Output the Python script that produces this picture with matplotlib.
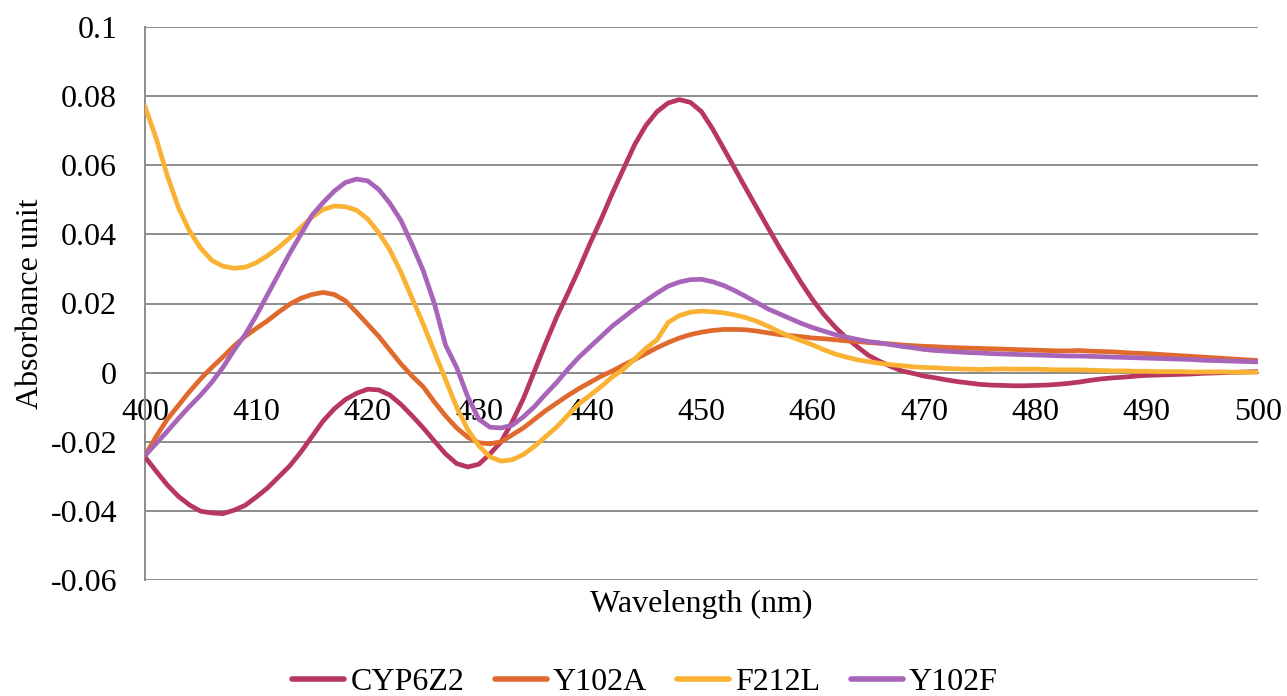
import numpy as np
import matplotlib
matplotlib.use("Agg")
import matplotlib.pyplot as plt

# wavelengths, 1 nm steps
wavelength = list(range(400, 501))

cyp6z2 = [
    -0.0244, -0.0285, -0.0325, -0.0358, -0.0383, -0.0401, -0.0406, -0.0408, -0.0398, -0.0384,
    -0.0360, -0.0334, -0.0302, -0.0270, -0.0230, -0.0185, -0.0140, -0.0105, -0.0078, -0.0060,
    -0.0048, -0.0050, -0.0065, -0.0092, -0.0125, -0.0160, -0.0198, -0.0235, -0.0263, -0.0273,
    -0.0265, -0.0235, -0.0200, -0.0142, -0.0075, 0.0005, 0.0085, 0.0162, 0.0230, 0.0300,
    0.0375, 0.0445, 0.0520, 0.0590, 0.0660, 0.0715, 0.0755, 0.0780, 0.0790, 0.0782,
    0.0755, 0.0705, 0.0648, 0.0590, 0.0532, 0.0475, 0.0418, 0.0362, 0.0310, 0.0258,
    0.0210, 0.0168, 0.0132, 0.0101, 0.0075, 0.0050, 0.0033, 0.0018, 0.0005, -0.0002,
    -0.0010, -0.0015, -0.0021, -0.0026, -0.0030, -0.0034, -0.0036, -0.0037, -0.0038, -0.0038,
    -0.0037, -0.0036, -0.0034, -0.0031, -0.0027, -0.0022, -0.0018, -0.0015, -0.0013, -0.0010,
    -0.0008, -0.0007, -0.0006, -0.0005, -0.0004, -0.0002, -0.0001, 0.0000, 0.0001, 0.0002,
    0.0003,
]

y102a = [
    -0.0240, -0.0185, -0.0135, -0.0095, -0.0055, -0.0018, 0.0015, 0.0045, 0.0077, 0.0105,
    0.0128, 0.0150, 0.0175, 0.0198, 0.0215, 0.0226, 0.0232, 0.0226, 0.0208, 0.0175,
    0.0140, 0.0105, 0.0065, 0.0025, -0.0010, -0.0041, -0.0085, -0.0125, -0.0160, -0.0187,
    -0.0203, -0.0206, -0.0200, -0.0180, -0.0160, -0.0135, -0.0110, -0.0088, -0.0066, -0.0046,
    -0.0028, -0.0010, 0.0005, 0.0022, 0.0038, 0.0055, 0.0072, 0.0087, 0.0100, 0.0110,
    0.0117, 0.0122, 0.0125, 0.0125, 0.0124, 0.0120, 0.0115, 0.0110, 0.0107, 0.0104,
    0.0100, 0.0098, 0.0095, 0.0092, 0.0090, 0.0087, 0.0085, 0.0083, 0.0080, 0.0078,
    0.0076, 0.0075, 0.0073, 0.0072, 0.0071, 0.0070, 0.0069, 0.0068, 0.0067, 0.0066,
    0.0065, 0.0064, 0.0063, 0.0063, 0.0064, 0.0062, 0.0061, 0.0060, 0.0058, 0.0056,
    0.0055, 0.0053, 0.0051, 0.0049, 0.0047, 0.0045, 0.0043, 0.0041, 0.0039, 0.0037,
    0.0035,
]

f212l = [
    0.0770, 0.0678, 0.0570, 0.0478, 0.0410, 0.0360, 0.0325, 0.0308, 0.0302, 0.0305,
    0.0318, 0.0338, 0.0362, 0.0390, 0.0420, 0.0450, 0.0472, 0.0482, 0.0480, 0.0470,
    0.0445, 0.0405, 0.0355, 0.0290, 0.0215, 0.0140, 0.0060, -0.0020, -0.0100, -0.0165,
    -0.0212, -0.0244, -0.0256, -0.0252, -0.0237, -0.0213, -0.0185, -0.0157, -0.0123, -0.0090,
    -0.0065, -0.0040, -0.0012, 0.0010, 0.0040, 0.0070, 0.0095, 0.0145, 0.0165, 0.0175,
    0.0178, 0.0176, 0.0173, 0.0167, 0.0159, 0.0148, 0.0134, 0.0118, 0.0104, 0.0092,
    0.0080, 0.0066, 0.0054, 0.0045, 0.0037, 0.0032, 0.0027, 0.0023, 0.0020, 0.0017,
    0.0015, 0.0014, 0.0012, 0.0011, 0.0010, 0.0009, 0.0010, 0.0011, 0.0010, 0.0010,
    0.0010, 0.0009, 0.0008, 0.0008, 0.0008, 0.0007, 0.0006, 0.0005, 0.0005, 0.0004,
    0.0004, 0.0003, 0.0003, 0.0003, 0.0002, 0.0002, 0.0002, 0.0002, 0.0001, 0.0001,
    0.0001,
]

y102f = [
    -0.0240, -0.0205, -0.0170, -0.0133, -0.0098, -0.0065, -0.0028, 0.0015, 0.0065, 0.0110,
    0.0165, 0.0225, 0.0285, 0.0345, 0.0400, 0.0455, 0.0492, 0.0525, 0.0550, 0.0560,
    0.0555, 0.0530, 0.0490, 0.0440, 0.0370, 0.0295, 0.0200, 0.0080, 0.0015, -0.0070,
    -0.0135, -0.0158, -0.0160, -0.0152, -0.0128, -0.0098, -0.0062, -0.0028, 0.0010, 0.0045,
    0.0075, 0.0105, 0.0135, 0.0160, 0.0185, 0.0208, 0.0230, 0.0250, 0.0262, 0.0269,
    0.0270, 0.0263, 0.0252, 0.0237, 0.0220, 0.0202, 0.0184, 0.0170, 0.0156, 0.0142,
    0.0130, 0.0120, 0.0110, 0.0103, 0.0096, 0.0090, 0.0086, 0.0081, 0.0076, 0.0072,
    0.0067, 0.0064, 0.0062, 0.0060, 0.0058, 0.0057, 0.0055, 0.0054, 0.0053, 0.0052,
    0.0051, 0.0050, 0.0049, 0.0048, 0.0048, 0.0047, 0.0046, 0.0045, 0.0044, 0.0043,
    0.0042, 0.0041, 0.0040, 0.0039, 0.0038, 0.0036, 0.0035, 0.0034, 0.0033, 0.0032,
    0.0031,
]

series_names = ["CYP6Z2", "Y102A", "F212L", "Y102F"]
colors = ["#B8375F", "#E06A2E", "#F9B233", "#A864B9"]

x_ticks = [400, 410, 420, 430, 440, 450, 460, 470, 480, 490, 500]
y_ticks = [-0.06, -0.04, -0.02, 0, 0.02, 0.04, 0.06, 0.08, 0.1]
y_tick_labels = ["-0.06", "-0.04", "-0.02", "0", "0.02", "0.04", "0.06", "0.08", "0.1"]

plt.rcParams["font.family"] = ["Liberation Serif", "DejaVu Serif"]
fs = 23

fig = plt.figure(figsize=(12.87, 6.96), dpi=100)
fig.set_facecolor("w")
ax = fig.add_axes([145 / 1287, 1 - 580 / 696, (1258 - 145) / 1287, (580 - 27) / 696])

for vals, name, c in zip([cyp6z2, y102a, f212l, y102f], series_names, colors):
    ax.plot(wavelength, vals, color=c, lw=3.4, label=name, solid_capstyle="round",
            solid_joinstyle="round", zorder=3)

ax.set_xlim(400, 500)
ax.set_ylim(-0.06, 0.1)
ax.set_yticks(y_ticks)
ax.set_yticklabels(y_tick_labels)
ax.set_xticks(x_ticks)
ax.grid(axis="y", color="#8c8c8c", lw=1.4, zorder=1)
ax.set_axisbelow(True)

for s in ["top", "right"]:
    ax.spines[s].set_visible(False)
ax.spines["left"].set_color("#8c8c8c")
ax.spines["left"].set_linewidth(1.4)
ax.spines["bottom"].set_position(("data", 0))
ax.spines["bottom"].set_color("#8c8c8c")
ax.spines["bottom"].set_linewidth(1.4)

ax.tick_params(axis="y", length=0, pad=20, labelsize=fs)
ax.tick_params(axis="x", length=0, pad=18, labelsize=fs)
for lbl in ax.get_xticklabels():
    lbl.set_zorder(2)

fig.text(30 / 1287, 1 - 304 / 696, "Absorbance unit", rotation=90, ha="center",
         va="center", fontsize=fs)
fig.text(701 / 1287, 1 - 604 / 696, "Wavelength (nm)", ha="center", va="center",
         fontsize=fs)

leg = fig.legend(loc="center", bbox_to_anchor=(645 / 1287, 1 - 682 / 696), ncol=4,
                 frameon=False, fontsize=fs, handlelength=1.63, handletextpad=0.19,
                 columnspacing=0.95, borderpad=0)
for h in leg.get_lines():
    h.set_linewidth(4)

fig.savefig("out.png", dpi=100, facecolor="w")
